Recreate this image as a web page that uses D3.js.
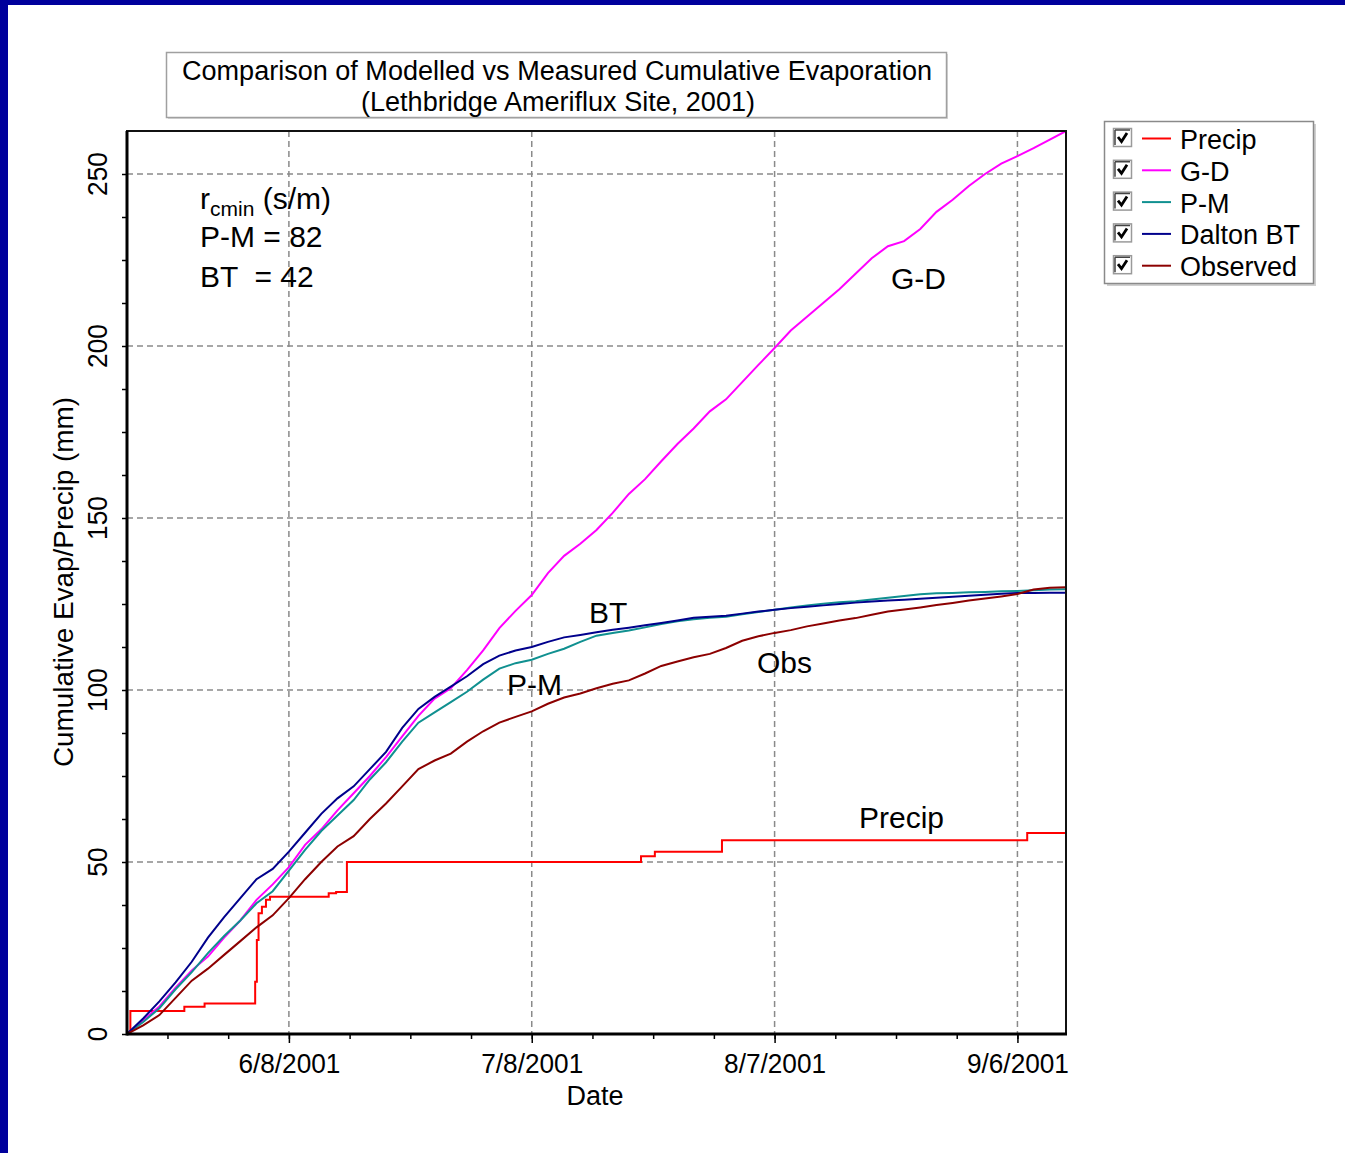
<!DOCTYPE html>
<html>
<head>
<meta charset="utf-8">
<script src="https://cdn.jsdelivr.net/npm/d3@7"></script>
<style>
	body { margin: 0; background: #fff; }
	svg text { font-family: 'Liberation Sans', Arial, sans-serif; fill: #000; }
</style>
</head>
<body>
<svg id="chart" width="1345" height="1153"></svg>
<script>
// sampled every 2 days starting 5/19/2001
var startDate = '2001-05-19';
var endDate = '2001-09-12';
var dayStep = 2;

var gdValues = [0, 4, 8, 13.5, 18.5, 22.5, 28, 33, 39, 43.5, 48.5, 55, 59.5, 65, 70, 75, 80.5, 86.5, 92.5, 97.5,
	100.5, 105.8, 111.5, 118, 123, 127.6, 134, 139, 142.5, 146.5, 151.5, 157, 161.3, 166.5, 171.5, 176, 181, 184.5,
	189.5, 194.5, 199.4, 204.5, 208.5, 212.5, 216.5, 221, 225.5, 229, 230.5, 234, 239, 242.5, 246.5, 250, 253, 255.2,
	257.5, 260, 262.5];
var pmValues = [0, 3.5, 7.5, 13, 18, 23.5, 28.5, 33, 38, 41.5, 47.5, 53.5, 59, 63.5, 68, 74, 79, 85, 90.5, 93.5,
	96.5, 99.5, 103, 106.2, 107.8, 108.8, 110.5, 112, 114, 115.8, 116.6, 117.3, 118.2, 119.2, 120, 120.6, 121, 121.3,
	122, 122.7, 123.3, 124, 124.6, 125.1, 125.5, 125.8, 126.3, 126.8, 127.3, 127.8, 128.1, 128.2, 128.4, 128.5, 128.7,
	128.8, 129, 129.2, 129.3];
var btValues = [0, 4.5, 9.5, 15, 21, 28, 34, 39.5, 45, 48, 53, 58.5, 64, 68.5, 72, 77, 82, 89, 94.5, 98,
	101, 104, 107.5, 110, 111.5, 112.5, 114, 115.3, 116, 116.8, 117.5, 118.1, 118.8, 119.5, 120.2, 121, 121.3, 121.6,
	122.2, 122.8, 123.3, 123.8, 124.2, 124.6, 125, 125.4, 125.7, 126, 126.2, 126.5, 126.8, 127.1, 127.4, 127.7, 128,
	128.2, 128.2, 128.3, 128.3];
var obsValues = [0, 2.5, 5.5, 10.5, 15.5, 19, 23, 27, 31, 34.5, 39.5, 45, 50, 54.5, 57.5, 62.5, 67, 72, 77, 79.5,
	81.5, 85, 88, 90.5, 92.2, 93.8, 96, 97.8, 99, 100.5, 101.8, 102.8, 104.8, 107, 108.3, 109.5, 110.5, 112.2,
	114.3, 115.6, 116.6, 117.4, 118.5, 119.3, 120.2, 120.9, 121.9, 122.8, 123.4, 124, 124.7, 125.3, 126, 126.6, 127.2,
	127.9, 129.2, 129.7, 129.9];

// precip is a step series, one point per rain event
var precipDates = ['2001-05-19 00:00', '2001-05-19 10:00', '2001-05-26 02:00', '2001-05-28 14:00',
	'2001-06-03 20:00', '2001-06-04 01:00', '2001-06-04 06:00', '2001-06-04 16:00', '2001-06-05 04:00',
	'2001-06-05 16:00', '2001-06-12 22:00', '2001-06-13 20:00', '2001-06-15 04:00', '2001-07-21 12:00',
	'2001-07-23 05:00', '2001-07-31 12:00', '2001-09-07 05:00', '2001-09-12 00:00'];
var precipValues = [0, 6.7, 7.9, 8.9, 15.2, 27.3, 35.1, 37, 39, 39.9, 40.9, 41.3, 50, 51.7, 53, 56.3, 58.4, 58.4];

var seriesNames = ['Precip', 'G-D', 'P-M', 'Dalton BT', 'Observed'];
var seriesColors = ['#ff0000', '#ff00ff', '#109090', '#00008c', '#8c0000'];

var xTickDates = ['2001-06-08', '2001-07-08', '2001-08-07', '2001-09-06'];
var yTicks = [0, 50, 100, 150, 200, 250];
var yMax = 262.5;

var svg = d3.select('#chart');
var parseDay = d3.timeParse('%Y-%m-%d');
var parseHour = d3.timeParse('%Y-%m-%d %H:%M');

var plotL = 127, plotR = 1066, plotT = 131, plotB = 1034;

var x = d3.scaleTime().domain([ parseDay(startDate), parseDay(endDate) ]).range([ plotL, plotR ]);
var y = d3.scaleLinear().domain([ 0, yMax ]).range([ plotB, plotT ]);

// slide border
svg.append('rect').attr('x', 0).attr('y', 0).attr('width', 1345).attr('height', 5).attr('fill', '#00009c');
svg.append('rect').attr('x', 0).attr('y', 0).attr('width', 8).attr('height', 1153).attr('fill', '#00009c');

// title box
svg.append('rect').attr('x', 168).attr('y', 54).attr('width', 780).attr('height', 65).attr('fill', '#d8d8d8');
svg
	.append('rect')
	.attr('x', 166.5)
	.attr('y', 52.5)
	.attr('width', 780)
	.attr('height', 65)
	.attr('fill', '#fff')
	.attr('stroke', '#a0a0a0')
	.attr('stroke-width', 1.5);
svg
	.append('text')
	.attr('x', 557)
	.attr('y', 80)
	.attr('text-anchor', 'middle')
	.attr('font-size', '27px')
	.attr('textLength', 750)
	.attr('lengthAdjust', 'spacingAndGlyphs')
	.text('Comparison of Modelled vs Measured Cumulative Evaporation');
svg
	.append('text')
	.attr('x', 558)
	.attr('y', 111)
	.attr('text-anchor', 'middle')
	.attr('font-size', '27px')
	.attr('textLength', 394)
	.attr('lengthAdjust', 'spacingAndGlyphs')
	.text('(Lethbridge Ameriflux Site, 2001)');

// grid
var grid = svg.append('g').attr('stroke', '#8a8a8a').attr('stroke-width', 1.5).attr('stroke-dasharray', '6,4');
grid
	.selectAll('line.gx')
	.data(xTickDates)
	.enter()
	.append('line')
	.attr('x1', function(d) { return x(parseDay(d)); })
	.attr('x2', function(d) { return x(parseDay(d)); })
	.attr('y1', plotT)
	.attr('y2', plotB);
grid
	.selectAll('line.gy')
	.data(yTicks.slice(1))
	.enter()
	.append('line')
	.attr('x1', plotL)
	.attr('x2', plotR)
	.attr('y1', function(d) { return y(d); })
	.attr('y2', function(d) { return y(d); });

// axes
var fmt = d3.timeFormat('%-m/%-d/%Y');
var xAxis = d3.axisBottom(x).tickValues(xTickDates.map(parseDay)).tickFormat(fmt).tickSize(9);
var gx = svg.append('g').attr('transform', 'translate(0,' + plotB + ')').call(xAxis);
gx.select('.domain').remove();
gx.selectAll('line').attr('stroke', '#000').attr('stroke-width', 1.5);
gx
	.selectAll('text')
	.attr('y', 39)
	.attr('dy', 0)
	.attr('font-size', '28px')
	.attr('font-family', null)
	.attr('textLength', 102)
	.attr('lengthAdjust', 'spacingAndGlyphs');

var minorX = d3
	.range(-4, 14)
	.map(function(k) { return d3.timeHour.offset(parseDay(xTickDates[0]), k * 180); })
	.filter(function(d) { return d > x.domain()[0] && d < x.domain()[1]; });
var gxm = svg.append('g').attr('transform', 'translate(0,' + plotB + ')').call(d3.axisBottom(x).tickValues(minorX).tickFormat('').tickSize(5));
gxm.select('.domain').remove();
gxm.selectAll('line').attr('stroke', '#000').attr('stroke-width', 1.5);

var minorY = d3.range(0, yMax, 12.5);
var gym = svg.append('g').attr('transform', 'translate(' + plotL + ',0)').call(d3.axisLeft(y).tickValues(minorY).tickFormat('').tickSize(5));
gym.select('.domain').remove();
gym.selectAll('line').attr('stroke', '#000').attr('stroke-width', 1.5);

svg
	.append('g')
	.selectAll('text')
	.data(yTicks)
	.enter()
	.append('text')
	.attr('transform', function(d) { return 'translate(107,' + y(d) + ') rotate(-90)'; })
	.attr('text-anchor', 'middle')
	.attr('font-size', '28px')
	.text(function(d) { return d; })
	.each(function() {
		var w = this.getComputedTextLength();
		d3.select(this).attr('textLength', w * 0.94).attr('lengthAdjust', 'spacingAndGlyphs');
	});

svg
	.append('text')
	.attr('transform', 'translate(73,582) rotate(-90)')
	.attr('text-anchor', 'middle')
	.attr('font-size', '28px')
	.attr('textLength', 370)
	.attr('lengthAdjust', 'spacingAndGlyphs')
	.text('Cumulative Evap/Precip (mm)');

svg
	.append('text')
	.attr('x', 595)
	.attr('y', 1105)
	.attr('text-anchor', 'middle')
	.attr('font-size', '27px')
	.text('Date');

// lines
svg.append('clipPath').attr('id', 'plotclip').append('rect').attr('x', plotL).attr('y', plotT).attr('width', plotR - plotL).attr('height', plotB - plotT);

function sampled(vals) {
	return vals.map(function(v, i) {
		return { date: d3.timeDay.offset(parseDay(startDate), i * dayStep), v: v };
	});
}

var precipData = precipDates.map(function(d, i) { return { date: parseHour(d), v: precipValues[i] }; });
var allSeries = [ precipData, sampled(gdValues), sampled(pmValues), sampled(btValues), sampled(obsValues) ];

var evapLine = d3.line().x(function(d) { return x(d.date); }).y(function(d) { return y(d.v); });
var precipLine = d3.line().x(function(d) { return x(d.date); }).y(function(d) { return y(d.v); }).curve(d3.curveStepAfter);

svg
	.append('g')
	.attr('clip-path', 'url(#plotclip)')
	.selectAll('path')
	.data(allSeries)
	.enter()
	.append('path')
	.attr('d', function(d, i) { return i === 0 ? precipLine(d) : evapLine(d); })
	.attr('fill', 'none')
	.attr('stroke', function(d, i) { return seriesColors[i]; })
	.attr('stroke-width', 2);

// frame
svg.append('rect').attr('x', plotL).attr('y', plotT).attr('width', plotR - plotL).attr('height', plotB - plotT).attr('fill', 'none').attr('stroke', '#111').attr('stroke-width', 2);
svg.append('line').attr('x1', plotL).attr('x2', plotL).attr('y1', plotT).attr('y2', plotB + 1.5).attr('stroke', '#000').attr('stroke-width', 3);
svg.append('line').attr('x1', plotL).attr('x2', plotR + 1).attr('y1', plotB).attr('y2', plotB).attr('stroke', '#000').attr('stroke-width', 3);

// annotations
var note = svg.append('text').attr('x', 200).attr('y', 209).attr('font-size', '30px');
note.append('tspan').text('r');
note.append('tspan').attr('font-size', '21px').attr('dy', 7).text('cmin');
note.append('tspan').attr('dy', -7).text(' (s/m)');
svg.append('text').attr('x', 200).attr('y', 247).attr('font-size', '30px').text('P-M = 82');
svg.append('text').attr('x', 200).attr('y', 287).attr('font-size', '30px').style('white-space', 'pre').text('BT  = 42');

var labels = [
	{ t: 'G-D', x: 891, y: 289 },
	{ t: 'BT', x: 589, y: 623 },
	{ t: 'P-M', x: 507, y: 695 },
	{ t: 'Obs', x: 757, y: 673 },
	{ t: 'Precip', x: 859, y: 828 }
];
svg
	.append('g')
	.selectAll('text')
	.data(labels)
	.enter()
	.append('text')
	.attr('x', function(d) { return d.x; })
	.attr('y', function(d) { return d.y; })
	.attr('font-size', '30px')
	.text(function(d) { return d.t; });

// legend
var lg = svg.append('g');
lg.append('rect').attr('x', 1107).attr('y', 124).attr('width', 209).attr('height', 162).attr('fill', '#cfcfcf');
lg.append('rect').attr('x', 1104.5).attr('y', 121.5).attr('width', 209).attr('height', 162).attr('fill', '#fff').attr('stroke', '#8a8a8a').attr('stroke-width', 1.5);
var rows = lg
	.selectAll('g.row')
	.data(seriesNames)
	.enter()
	.append('g')
	.attr('transform', function(d, i) { return 'translate(0,' + (138 + i * 31.8) + ')'; });
rows.append('rect').attr('x', 1113.5).attr('y', -9.5).attr('width', 18).attr('height', 18).attr('fill', '#fff').attr('stroke', '#9a9a9a').attr('stroke-width', 1.5);
rows.append('path').attr('d', 'M1115,-8 H1130 M1115,-8 V7').attr('stroke', '#444').attr('stroke-width', 1.5).attr('fill', 'none');
rows.append('path').attr('d', 'M1118,-1 L1121.5,3.5 L1127,-5').attr('stroke', '#000').attr('stroke-width', 2.8).attr('fill', 'none');
rows
	.append('line')
	.attr('x1', 1142)
	.attr('x2', 1171)
	.attr('y1', 0.5)
	.attr('y2', 0.5)
	.attr('stroke', function(d, i) { return seriesColors[i]; })
	.attr('stroke-width', 2);
rows
	.append('text')
	.attr('x', 1180)
	.attr('y', 11)
	.attr('font-size', '27px')
	.text(function(d) { return d; });
</script>
</body>
</html>
